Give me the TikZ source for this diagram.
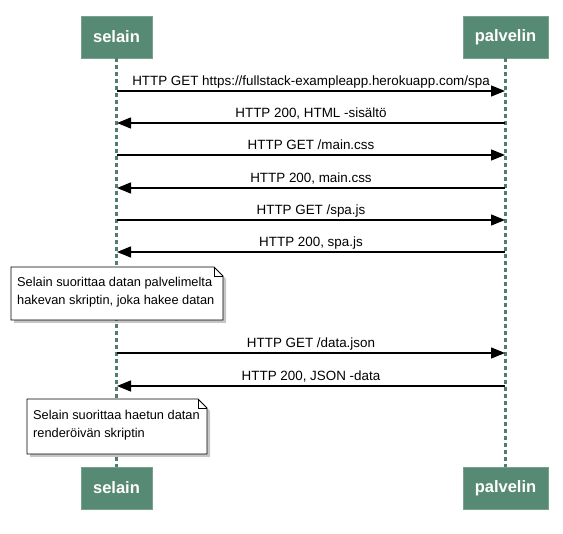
\documentclass[tikz,border=0pt]{standalone}
\usepackage{fontspec}
\setmainfont{Liberation Sans}
\usetikzlibrary{arrows.meta,shadows}
\definecolor{actorgreen}{HTML}{578A74}
\definecolor{lifeline}{HTML}{4F7F6C}
\tikzset{
  actor/.style={fill=actorgreen, draw=actorgreen!80!white, minimum height=42pt, inner sep=0pt,
    text=white, font=\fontsize{16.5}{18}\selectfont\bfseries},
  msg/.style={draw=black, line width=1.4pt, -{Triangle[length=14pt,width=11pt]}},
  msglabel/.style={font=\fontsize{13.4}{15}\selectfont, inner sep=0pt, anchor=base, yshift=5pt},
  lifelinestyle/.style={draw=lifeline, line width=2.6pt, dash pattern=on 4pt off 3pt},
  notetext/.style={font=\fontsize{12.8}{18}\selectfont, align=left, anchor=north west, inner sep=0pt},
  notebox/.style={fill=white, draw=black, line width=0.8pt, drop shadow={shadow xshift=3pt, shadow yshift=-3pt, opacity=0.45, fill=gray}}
}
\begin{document}
\begin{tikzpicture}[x=1pt,y=-1pt]
\useasboundingbox (0,0) rectangle (563,534);
% actors
\node[actor, minimum width=71pt] (s1) at (116.5,37) {selain};
\node[actor, minimum width=85pt] (p1) at (505.5,37) {palvelin};
\node[actor, minimum width=71pt] (s2) at (116.5,488) {selain};
\node[actor, minimum width=85pt] (p2) at (505.5,488) {palvelin};
% lifelines
\draw[lifelinestyle] (s1.south) -- (s2.north);
\draw[lifelinestyle] (p1.south) -- (p2.north);
% message anchors
\foreach \n/\y in {1/91,2/123,3/155,4/188,5/220,6/252,7/353,8/386}{
  \coordinate (L\n) at (117,\y);
  \coordinate (R\n) at (505,\y);
}
\draw[msg] (L1) -- (R1) node[midway, msglabel] {HTTP GET https://fullstack-exampleapp.herokuapp.com/spa};
\draw[msg] (R2) -- (L2) node[midway, msglabel] {HTTP 200, HTML -sisältö};
\draw[msg] (L3) -- (R3) node[midway, msglabel] {HTTP GET /main.css};
\draw[msg] (R4) -- (L4) node[midway, msglabel] {HTTP 200, main.css};
\draw[msg] (L5) -- (R5) node[midway, msglabel] {HTTP GET /spa.js};
\draw[msg] (R6) -- (L6) node[midway, msglabel] {HTTP 200, spa.js};
\draw[msg] (L7) -- (R7) node[midway, msglabel] {HTTP GET /data.json};
\draw[msg] (R8) -- (L8) node[midway, msglabel] {HTTP 200, JSON -data};
% note 1
\path[notebox] (11,267) -- (214,267) -- (223,276) -- (223,320) -- (11,320) -- cycle;
\draw[line width=0.8pt] (214,267) -- (214,276) -- (223,276);
\node[notetext] (n1) at (17,277) {Selain suorittaa datan palvelimelta\\hakevan skriptin, joka hakee datan};
% note 2
\path[notebox] (27,399) -- (198,399) -- (207,408) -- (207,454) -- (27,454) -- cycle;
\draw[line width=0.8pt] (198,399) -- (198,408) -- (207,408);
\node[notetext] (n2) at (33,410) {Selain suorittaa haetun datan\\renderöivän skriptin};
\end{tikzpicture}
\end{document}
